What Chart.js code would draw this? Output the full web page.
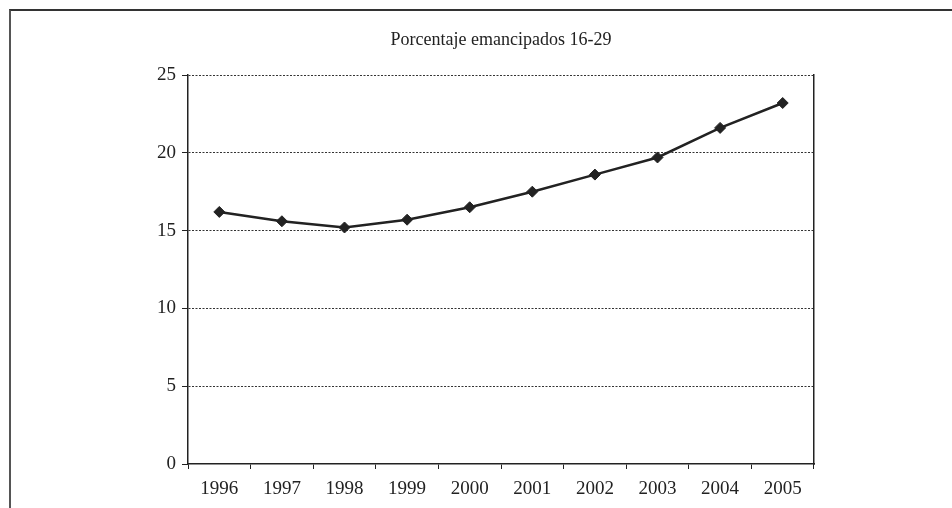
<!DOCTYPE html>
<html>
<head>
<meta charset="utf-8">
<script src="https://cdn.jsdelivr.net/npm/chart.js@4"></script>
<style>
  html, body { margin: 0; padding: 0; background: #fff; }
  #marco {
    position: absolute; left: 9px; top: 9px; width: 943px; height: 499px;
    border-left: 2px solid #555; border-top: 2px solid #333;
    box-sizing: border-box;
  }
  #caja { position: absolute; left: 0; top: 0; width: 952px; height: 508px; }
</style>
</head>
<body>
<div id="marco"></div>
<div id="caja"><canvas id="grafico" width="952" height="508"></canvas></div>
<script>
const anios = ['1996', '1997', '1998', '1999', '2000', '2001', '2002', '2003', '2004', '2005'];
const emancipados = [16.2, 15.6, 15.2, 15.7, 16.5, 17.5, 18.6, 19.7, 21.6, 23.2];
const ticksY = [0, 5, 10, 15, 20, 25];

const tinta = '#222';
const fuente = 'Liberation Serif, Times New Roman, serif';

const ctx = document.getElementById('grafico').getContext('2d');
const grafico = new Chart(ctx, {
    type: 'line',
    data: {
        labels: anios,
        datasets: [{
            label: 'Porcentaje emancipados 16-29',
            data: emancipados,
            borderColor: tinta,
            borderWidth: 2.5,
            backgroundColor: tinta,
            pointStyle: 'rectRot',
            pointRadius: 5.5,
            pointBorderWidth: 1,
            pointBackgroundColor: tinta,
            pointBorderColor: tinta,
            tension: 0
        }]
    },
    options: {
        responsive: false,
        animation: false,
        layout: { padding: { left: 0, right: 138, top: 0, bottom: 0 } },
        plugins: {
            legend: { display: false },
            tooltip: { enabled: false },
            title: {
                display: true,
                fullSize: false, // centrado sobre el area del grafico
                text: 'Porcentaje emancipados 16-29',
                color: tinta,
                font: { family: fuente, size: 18, weight: 'normal' },
                padding: { top: 29, bottom: 24.4 }
            }
        },
        scales: {
            x: {
                offset: true,
                grid: { offset: true, drawOnChartArea: false, drawTicks: true, tickLength: 5, color: tinta },
                border: { display: true, color: tinta, width: 1.5 },
                ticks: { color: tinta, font: { family: fuente, size: 19 }, padding: 9, maxRotation: 0 },
                afterFit: s => { s.height = 44; }
            },
            y: {
                min: 0,
                max: 25,
                afterBuildTicks: s => { s.ticks = ticksY.map(v => ({ value: v })); },
                grid: {
                    // la linea del cero la pone el eje x, solida
                    color: c => (c.tick && c.tick.value === 0) ? 'rgba(0,0,0,0)' : '#333',
                    tickBorderDash: [],
                    tickLength: 6,
                    tickColor: tinta
                },
                border: { display: true, color: tinta, width: 1.5, dash: [2, 1.5] },
                ticks: { color: tinta, font: { family: fuente, size: 19 }, padding: 6 },
                afterFit: s => { s.width = 188; }
            },
            derecha: {
                position: 'right',
                min: 0,
                max: 25,
                grid: { display: false, drawTicks: false },
                border: { display: true, color: tinta, width: 1.5 },
                ticks: { display: false },
                afterFit: s => { s.width = 0; }
            }
        }
    }
});
</script>
</body>
</html>
